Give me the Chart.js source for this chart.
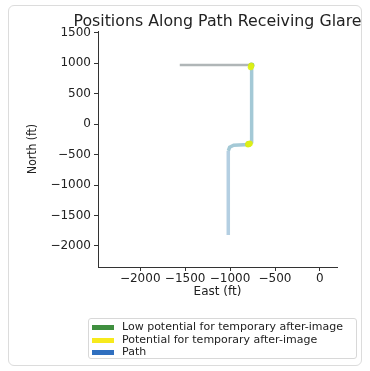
<!DOCTYPE html>
<html><head><meta charset="utf-8">
<script src="https://cdn.jsdelivr.net/npm/chart.js@4.4.1/dist/chart.umd.min.js"></script>
<style>
html,body{margin:0;padding:0;background:#fff;width:370px;height:371px;overflow:hidden;font-family:'DejaVu Sans',sans-serif}
#card{position:absolute;left:8px;top:5px;width:352px;height:359px;border:1px solid #dcdcdc;border-radius:6px}
#c{position:absolute;left:0;top:0}
#legend{position:absolute;left:88px;top:318px;width:267px;height:37px;border:1px solid #d8d8d8;border-radius:3px;background:rgba(255,255,255,0.85);font-size:11px;color:#222;padding-top:2px;box-sizing:content-box}
.row{position:relative;height:12.5px;line-height:12.5px;white-space:nowrap}
.sw{position:absolute;left:3px;top:4px;width:22px;height:5px}
.lbl{position:absolute;left:33px;top:0}
</style></head>
<body>
<div id="card"></div>
<canvas id="c" width="370" height="371"></canvas>
<div id="legend"></div>
<script>
// ---- data ----
const eastTicks = [-2000, -1500, -1000, -500, 0];
const northTicks = [-2000, -1500, -1000, -500, 0, 500, 1000, 1500];
const pathEast  = [-1560, -760, -760, -790, -960, -1005, -1020, -1020];
const pathNorth = [970, 970, -300, -335, -345, -380, -440, -1820];
const potentialEast  = [-766, -770, -780, -792, -800];
const potentialNorth = [958, 935, -318, -326, -334];
const lowEast  = [-762, -795];
const lowNorth = [965, -325];
const legendLabels = ['Low potential for temporary after-image', 'Potential for temporary after-image', 'Path'];
const legendColors = ['#3f8f3f', '#f7ea1c', '#2f6fbf'];
const titleText = 'Positions Along Path Receiving Glare';
const xTitle = 'East (ft)';
const yTitle = 'North (ft)';

function pts(xs, ys){ return xs.map((x,i)=>({x:x, y:ys[i]})); }
function fmt(v){ return (v<0?'\u2212':'') + Math.abs(v); }

// legend (HTML text)
const lg = document.getElementById('legend');
legendLabels.forEach((t,i)=>{
  const r=document.createElement('div'); r.className='row';
  const s=document.createElement('span'); s.className='sw'; s.style.background=legendColors[i];
  const l=document.createElement('span'); l.className='lbl'; l.textContent=t;
  r.appendChild(s); r.appendChild(l); lg.appendChild(r);
});

// title centred over the plot area, without width compression
const axesTitle = {
  id:'axesTitle',
  afterDraw(chart){
    const ctx = chart.ctx, a = chart.chartArea;
    ctx.save();
    ctx.font = "15.8px 'DejaVu Sans', sans-serif";
    ctx.fillStyle = '#222';
    ctx.textAlign = 'center';
    ctx.textBaseline = 'middle';
    ctx.fillText(titleText, (a.left + a.right) / 2, 22);
    ctx.restore();
  }
};

const tickFont = {family:"'DejaVu Sans', sans-serif", size:12};
new Chart(document.getElementById('c'), {
  type:'scatter',
  data:{datasets:[
    {label:legendLabels[2], data:pts(pathEast,pathNorth), showLine:true, pointRadius:0, borderWidth:3.5,
     borderColor:'#a4c9d6',
     segment:{
       borderColor: c => (c.p0.parsed.y>900 && c.p1.parsed.y>900) ? '#b0b6b7' : (c.p1.parsed.y < -1000 ? '#b4cfe2' : '#a4c9d6'),
       borderWidth: c => (c.p0.parsed.y>900 && c.p1.parsed.y>900) ? 2.5 : 3.5
     },
     order:3},
    {label:legendLabels[0], data:pts(lowEast,lowNorth), pointRadius:3, pointBorderWidth:0, backgroundColor:'rgba(110,180,60,0.8)', order:2},
    {label:legendLabels[1], data:pts(potentialEast,potentialNorth), pointRadius:3, pointBorderWidth:0, backgroundColor:'rgba(222,240,20,0.9)', order:1}
  ]},
  options:{
    responsive:false, animation:false, devicePixelRatio:1,
    layout:{padding:{left:22,right:33,top:31,bottom:69}},
    plugins:{
      legend:{display:false}, tooltip:{enabled:false}, title:{display:false}
    },
    scales:{
      x:{type:'linear', min:-2470, max:190,
        afterFit: s=>{ s.height=35; },
        afterBuildTicks: s=>{ s.ticks = eastTicks.map(v=>({value:v})); },
        ticks:{autoSkip:false, maxRotation:0, color:'#222', font:tickFont, padding:1, callback:v=>fmt(v)},
        grid:{display:true, drawOnChartArea:false, drawTicks:true, tickLength:4, color:'#333'},
        border:{display:true, color:'#333', width:1},
        title:{display:true, text:xTitle, color:'#222', font:tickFont, padding:{top:0,bottom:3}}
      },
      y:{type:'linear', min:-2345, max:1530,
        afterFit: s=>{ s.width=76; },
        afterBuildTicks: s=>{ s.ticks = northTicks.map(v=>({value:v})); },
        ticks:{autoSkip:false, color:'#222', font:tickFont, padding:3, callback:v=>fmt(v)},
        grid:{display:true, drawOnChartArea:false, drawTicks:true, tickLength:4, color:'#333'},
        border:{display:true, color:'#333', width:1},
        title:{display:true, text:yTitle, color:'#222',
          font:{family:"'DejaVu Sans Condensed', 'Liberation Sans Narrow', 'DejaVu Sans', sans-serif", size:12},
          padding:{top:4,bottom:0}}
      }
    }
  },
  plugins:[axesTitle]
});
</script>
</body></html>
